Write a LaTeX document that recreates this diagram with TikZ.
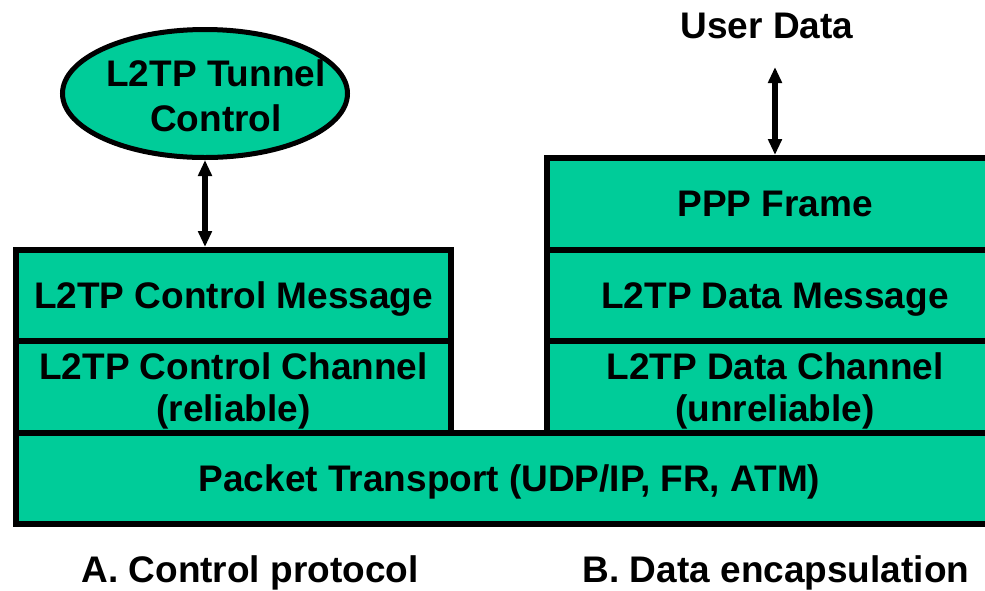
\documentclass[tikz,border=0pt]{standalone}
\usepackage{fontspec}
\setmainfont{Liberation Sans}
\usetikzlibrary{shapes.geometric,arrows.meta}
\definecolor{layergreen}{RGB}{0,204,153}
\begin{document}
\begin{tikzpicture}[x=0.75pt,y=-0.75pt,
  every node/.style={font=\bfseries\fontsize{27.75}{31.5}\selectfont, inner sep=0pt},
  layer/.style={draw=black, line width=4.5pt, fill=layergreen, rectangle, align=center, text depth=0pt},
  biarrow/.style={line width=4pt, {Triangle[length=12pt,width=10pt]}-{Triangle[length=12pt,width=10pt]}}
]
\useasboundingbox (0,0) rectangle (985,590);
\fill[white] (0,0) rectangle (985,590);
% bottom layer
\node[layer, minimum width=740.25pt, minimum height=68.25pt] (pkt) at (509.5,478.5) {Packet Transport (UDP/IP, FR, ATM)};
% control stack
\node[layer, minimum width=326.25pt, minimum height=68.25pt] (cmsg) at (233.5,295.5) {L2TP Control Message};
\node[layer, minimum width=326.25pt, minimum height=69pt] (cchan) at (233.5,387) {L2TP Control Channel\\(reliable)};
% data stack
\node[layer, minimum width=342pt, minimum height=69pt] (ppp) at (775,204) {PPP Frame};
\node[layer, minimum width=342pt, minimum height=68.25pt] (dmsg) at (775,295.5) {L2TP Data Message};
\node[layer, minimum width=342pt, minimum height=69pt] (dchan) at (775,387) {L2TP Data Channel\\(unreliable)};
% tunnel control ellipse
\node[ellipse, draw=black, line width=3.75pt, fill=layergreen, minimum width=213.75pt, minimum height=96pt] (tunnel) at (205,93.5) {};
\node[align=center, font=\bfseries\fontsize{27.75}{33.5}\selectfont] (tunneltxt) at (216,96) {L2TP Tunnel\\Control};
% user data
\node[anchor=base] (user) at (767,38) {User Data};
\coordinate (usertip) at (775,67);
% arrows
\draw[biarrow] (tunnel.south) -- (tunnel.south |- cmsg.north);
\draw[biarrow] (usertip) -- (usertip |- ppp.north);
% captions
\node[anchor=base] (capa) at (250,582) {A. Control protocol};
\node[anchor=base] (capb) at (776,582) {B. Data encapsulation};
\end{tikzpicture}
\end{document}
